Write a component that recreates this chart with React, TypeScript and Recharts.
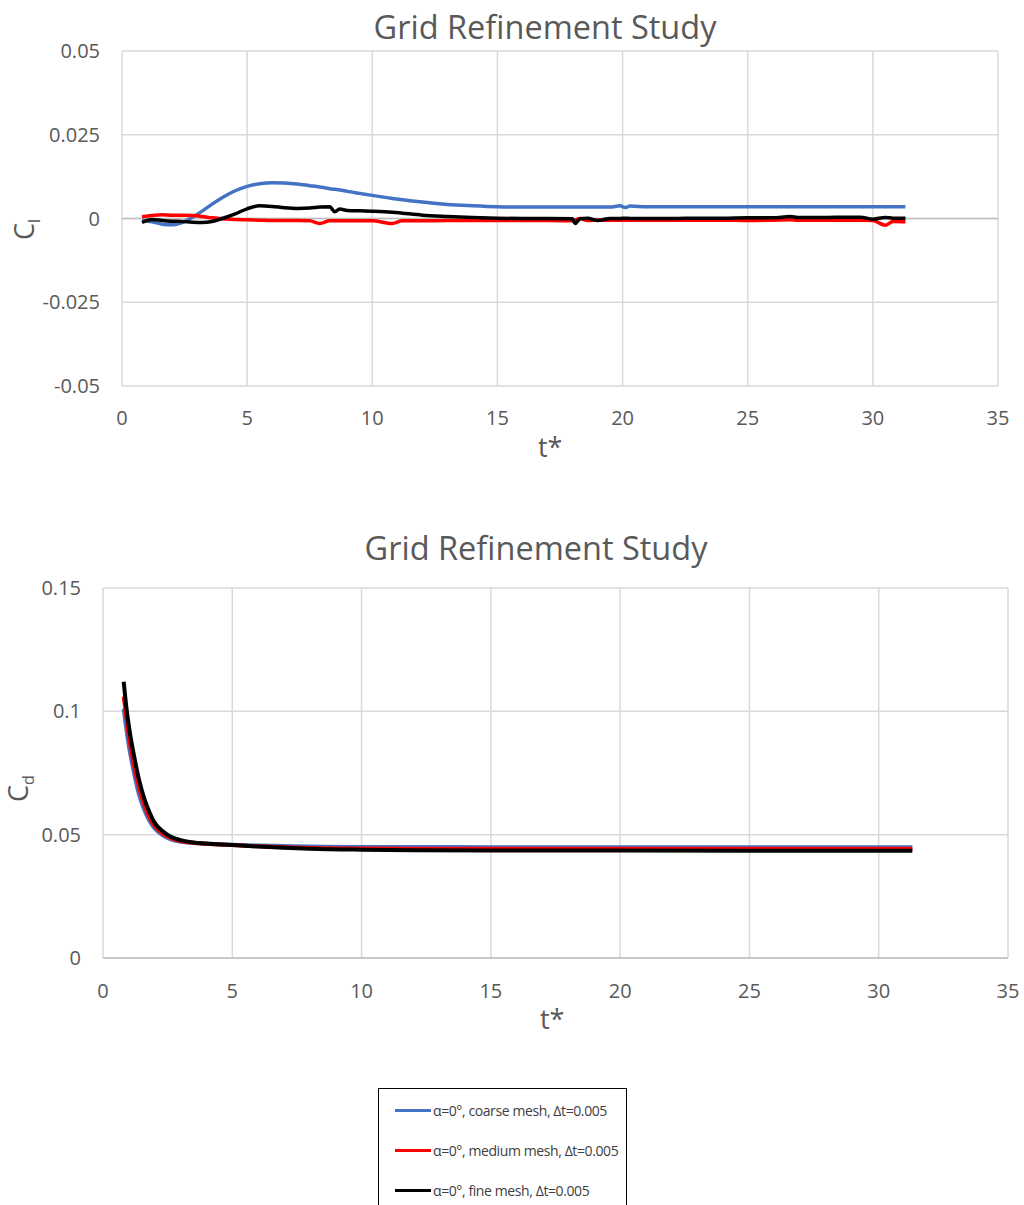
import React from 'react';
import { LineChart, Line, XAxis, YAxis, CartesianGrid, ReferenceLine } from 'recharts';

// ---- Lift coefficient (top chart) ----
const tCl = [0.8, 1.2, 1.6, 2.0, 2.4, 2.8, 3.2, 3.6, 4.0, 4.5, 5.0, 5.5, 6.0, 6.5, 7.0, 7.5, 7.9, 8.3, 8.5, 8.7, 9.0, 9.5, 10, 10.8, 11.2, 12, 13, 14, 15, 16, 17, 18, 18.1, 18.3, 18.6, 19, 19.5, 19.9, 20.1, 20.3, 21, 22, 23, 24, 25, 26, 26.7, 27, 28, 29, 29.5, 30, 30.5, 30.8, 31.3];
const clCoarse = [-0.0006, -0.001, -0.0017, -0.0019, -0.0012, 0.0003, 0.0022, 0.0043, 0.0062, 0.0082, 0.0096, 0.0104, 0.0107, 0.0106, 0.0103, 0.0098, 0.0094, 0.0089, 0.0087, 0.0085, 0.0081, 0.0075, 0.0069, 0.006, 0.0056, 0.0049, 0.0042, 0.0038, 0.0035, 0.0034, 0.0034, 0.0034, 0.0034, 0.0034, 0.0034, 0.0034, 0.0034, 0.0038, 0.0033, 0.0037, 0.0035, 0.0035, 0.0035, 0.0035, 0.0035, 0.0035, 0.0035, 0.0035, 0.0035, 0.0035, 0.0035, 0.0035, 0.0035, 0.0035, 0.0035];
const clMedium = [0.0005, 0.0009, 0.0011, 0.001, 0.001, 0.0009, 0.0006, 0.0002, -0.0001, -0.0003, -0.0004, -0.0005, -0.0006, -0.0006, -0.0006, -0.0007, -0.0015, -0.0007, -0.0007, -0.0007, -0.0007, -0.0007, -0.0007, -0.0015, -0.0007, -0.0007, -0.0006, -0.0006, -0.0006, -0.0006, -0.0006, -0.0007, -0.0005, 0.0, -0.0006, -0.0005, -0.0005, -0.0005, -0.0005, -0.0005, -0.0005, -0.0005, -0.0005, -0.0005, -0.0006, -0.0005, -0.0004, -0.0005, -0.0005, -0.0005, -0.0005, -0.0006, -0.002, -0.0009, -0.001];
const clFine = [-0.0012, -0.0003, -0.0006, -0.0008, -0.0009, -0.0011, -0.0012, -0.0009, 0.0, 0.0013, 0.0029, 0.0038, 0.0036, 0.0032, 0.003, 0.0031, 0.0034, 0.0035, 0.002, 0.0028, 0.0024, 0.0023, 0.0022, 0.0019, 0.0016, 0.001, 0.0006, 0.0003, 0.0001, 0.0, 0.0, -0.0001, -0.0015, -0.0001, 0.0001, -0.0006, 0.0, 0.0, 0.0001, 0.0, 0.0, 0.0, 0.0001, 0.0001, 0.0002, 0.0002, 0.0006, 0.0003, 0.0003, 0.0004, 0.0004, -0.0002, 0.0003, 0.0001, 0.0001];

// ---- Drag coefficient (bottom chart) ----
const tCd = [0.8, 0.9, 1.0, 1.2, 1.4, 1.6, 1.8, 2.0, 2.3, 2.6, 3.0, 3.5, 4.0, 5.0, 6.0, 7.0, 8.0, 10, 12, 15, 20, 25, 30, 31.3];
const cdCoarse = [0.101, 0.093, 0.086, 0.075, 0.066, 0.06, 0.0555, 0.0525, 0.0498, 0.0482, 0.0471, 0.0466, 0.0463, 0.0459, 0.0456, 0.0454, 0.0452, 0.045, 0.045, 0.0449, 0.0449, 0.0449, 0.0449, 0.0449];
const cdMedium = [0.106, 0.098, 0.09, 0.078, 0.069, 0.062, 0.057, 0.0535, 0.0505, 0.0487, 0.0474, 0.0467, 0.0463, 0.0458, 0.0453, 0.0449, 0.0446, 0.0444, 0.0443, 0.0443, 0.0443, 0.0443, 0.0443, 0.0443];
const cdFine = [0.112, 0.102, 0.094, 0.082, 0.072, 0.0645, 0.059, 0.0548, 0.0515, 0.0493, 0.0478, 0.0468, 0.0464, 0.0458, 0.0452, 0.0447, 0.0443, 0.0439, 0.0437, 0.0436, 0.0436, 0.0435, 0.0435, 0.0435];

const xTicks = [0, 5, 10, 15, 20, 25, 30, 35];
const clTicks = [-0.05, -0.025, 0, 0.025, 0.05];
const cdTicks = [0, 0.05, 0.1, 0.15];

const seriesNames = ['α=0°, coarse mesh, Δt=0.005', 'α=0°, medium mesh, Δt=0.005', 'α=0°, fine mesh, Δt=0.005'];
const seriesColors = ['#4472C4', '#FF0000', '#000000'];
const title = 'Grid Refinement Study';

const clData = tCl.map((t, i) => ({ t, coarse: clCoarse[i], medium: clMedium[i], fine: clFine[i] }));
const cdData = tCd.map((t, i) => ({ t, coarse: cdCoarse[i], medium: cdMedium[i], fine: cdFine[i] }));

const FONT = "'Open Sans', 'DejaVu Sans', sans-serif";
const TXT = '#595959';
const tickStyle = { fontFamily: FONT, fontSize: 20, fill: TXT };

const keys = ['coarse', 'medium', 'fine'];

export default function App() {
  return (
    <div style={{ position: 'absolute', left: 0, top: 0, width: 1024, height: 1205, background: '#fff', fontFamily: FONT, color: TXT, overflow: 'hidden' }}>
      {/* Top chart */}
      <div style={{ position: 'absolute', left: 0, top: 4, width: 1024, textAlign: 'center', fontSize: 32.5, paddingLeft: 66, boxSizing: 'border-box' }}>{title}</div>
      <div style={{ position: 'absolute', left: 0, top: 0 }}>
        <LineChart width={1024} height={470} data={clData} margin={{ top: 51, right: 26, left: 62, bottom: 54 }}>
          <CartesianGrid stroke="#D9D9D9" strokeWidth={1.5} />
          <XAxis type="number" dataKey="t" domain={[0, 35]} ticks={xTicks} axisLine={false} tickLine={false} tickSize={0} tickMargin={25} height={30} tick={tickStyle} interval={0} />
          <YAxis type="number" domain={[-0.05, 0.05]} ticks={clTicks} axisLine={false} tickLine={false} tickSize={0} tickMargin={22} width={60} tick={tickStyle} interval={0} />
          <ReferenceLine y={0} stroke="#BFBFBF" strokeWidth={1.5} />
          {keys.map((k, i) => (
            <Line key={k} type="monotone" dataKey={k} stroke={seriesColors[i]} strokeWidth={3.5} dot={false} isAnimationActive={false} />
          ))}
        </LineChart>
      </div>
      <div style={{ position: 'absolute', left: 538, top: 428, fontSize: 27 }}>t*</div>
      <div style={{ position: 'absolute', left: 4, top: 200, width: 40, height: 40, fontSize: 27, transform: 'rotate(-90deg)', transformOrigin: 'center', lineHeight: '40px', whiteSpace: 'nowrap' }}>C<sub style={{ fontSize: 16 }}>l</sub></div>

      {/* Bottom chart */}
      <div style={{ position: 'absolute', left: 0, top: 525, width: 1024, textAlign: 'center', fontSize: 32.5, paddingLeft: 48, boxSizing: 'border-box' }}>{title}</div>
      <div style={{ position: 'absolute', left: 0, top: 500 }}>
        <LineChart width={1024} height={520} data={cdData} margin={{ top: 88, right: 16, left: 43, bottom: 32 }}>
          <CartesianGrid stroke="#D9D9D9" strokeWidth={1.5} />
          <XAxis type="number" dataKey="t" domain={[0, 35]} ticks={xTicks} axisLine={{ stroke: '#BFBFBF', strokeWidth: 1.5 }} tickLine={false} tickSize={0} tickMargin={26} height={30} tick={tickStyle} interval={0} />
          <YAxis type="number" domain={[0, 0.15]} ticks={cdTicks} axisLine={false} tickLine={false} tickSize={0} tickMargin={22} width={60} tick={tickStyle} interval={0} />
          {keys.map((k, i) => (
            <Line key={k} type="monotone" dataKey={k} stroke={seriesColors[i]} strokeWidth={4} dot={false} isAnimationActive={false} />
          ))}
        </LineChart>
      </div>
      <div style={{ position: 'absolute', left: 540, top: 1000, fontSize: 27 }}>t*</div>
      <div style={{ position: 'absolute', left: -2, top: 762, width: 40, height: 40, fontSize: 27, transform: 'rotate(-90deg)', transformOrigin: 'center', lineHeight: '40px', whiteSpace: 'nowrap' }}>C<sub style={{ fontSize: 16 }}>d</sub></div>

      {/* Legend */}
      <div style={{ position: 'absolute', left: 378, top: 1088, width: 249, height: 130, border: '1px solid #000', boxSizing: 'border-box', background: '#fff' }}>
        {seriesNames.map((name, i) => (
          <div key={name} style={{ position: 'absolute', left: 16, top: 11 + i * 40, height: 20, display: 'flex', alignItems: 'center', whiteSpace: 'nowrap' }}>
            <div style={{ width: 36, height: 3, background: seriesColors[i], marginRight: 2 }} />
            <span style={{ fontSize: 14, color: '#404040', fontFamily: FONT, letterSpacing: -0.4 }}>{name}</span>
          </div>
        ))}
      </div>
    </div>
  );
}
